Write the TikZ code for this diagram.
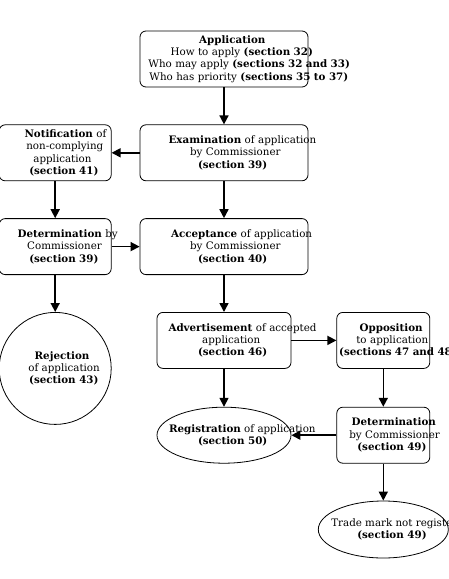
\documentclass[tikz,border=0pt]{standalone}
\usepackage{fontspec}
\setmainfont{DejaVu Serif}
\usepackage{tikz}
\usetikzlibrary{positioning,arrows.meta,shapes.geometric}
\newcommand{\ovl}[1]{\makebox[0.75\width][l]{#1}} % lines run past their box
\tikzset{
  stepbox/.style={rectangle, draw, rounded corners=6pt, line width=0.8pt, inner sep=2pt,
                  minimum height=56pt, align=center, font=\fontsize{10.3}{12.4}\selectfont},
  wide/.style={text width=164pt},
  mid/.style={text width=130pt},
  small/.style={text width=108pt},
  slim/.style={text width=89pt},
  oval/.style={ellipse, draw, line width=0.8pt, inner sep=0pt},
  round/.style={circle, draw, line width=0.8pt, inner sep=0pt, minimum size=112pt},
  txt/.style={align=center, font=\fontsize{10.3}{12.4}\selectfont},
  fwd/.style={-{Triangle[length=9pt,width=9pt]}, line width=1.6pt},
}

\begin{document}
\begin{tikzpicture}[x=1pt, y=-1pt, node distance=37pt]
  \useasboundingbox (0,0) rectangle (448,579);

  \node[stepbox, wide] (app) at (224,59) {\ovl{\textbf{Application}}\\
    \ovl{How to apply \textbf{(section 32)}}\\
    \ovl{Who may apply \textbf{(sections 32 and 33)}}\\
    \ovl{Who has priority \textbf{(sections 35 to 37)}}};
  \node[stepbox, wide] (exam) [below=of app] {\ovl{\textbf{Examination} of application}\\
    \ovl{by Commissioner}\\ \ovl{\textbf{(section 39)}}};
  \node[stepbox, small] (notif) [left=28pt of exam] {\ovl{\textbf{Notification} of}\\
    \ovl{non-complying}\\ \ovl{application}\\ \ovl{\textbf{(section 41)}}};
  \node[stepbox, small] (detcom) [below=of notif] {\ovl{\textbf{Determination} by}\\
    \ovl{Commissioner}\\ \ovl{\textbf{(section 39)}}};
  \node[stepbox, wide] (accept) [below=of exam] {\ovl{\textbf{Acceptance} of application}\\
    \ovl{by Commissioner}\\ \ovl{\textbf{(section 40)}}};
  \node[round, label={[txt]center:{\ovl{\textbf{Rejection}}\\ \ovl{of application}\\
    \ovl{\textbf{(section 43)}}}}] (reject) [below=of detcom] {};
  \node[stepbox, mid] (advert) [below=of accept] {\ovl{\textbf{Advertisement} of accepted}\\
    \ovl{application}\\ \ovl{\textbf{(section 46)}}};
  \node[stepbox, slim] (oppo) [right=45pt of advert] {\ovl{\textbf{Opposition}}\\
    \ovl{to application}\\ \ovl{\textbf{(sections 47 and 48)}}};
  \node[oval, minimum width=134pt, minimum height=56pt,
        label={[txt]center:{\ovl{\textbf{Registration} of application}\\
        \ovl{\textbf{(section 50)}}}}] (regist) [below=38pt of advert] {};
  \node[stepbox, slim] (detopp) [below=38pt of oppo] {\ovl{\textbf{Determination}}\\
    \ovl{by Commissioner}\\ \ovl{\textbf{(section 49)}}};
  \node[oval, minimum width=130pt, minimum height=57pt,
        label={[txt]center:{\ovl{Trade mark not registered}\\
        \ovl{\textbf{(section 49)}}}}] (notreg) [below=of detopp] {};

  \draw[fwd] (app) -- (exam);
  \draw[fwd] (exam) -- (notif);
  \draw[fwd] (notif) -- (detcom);
  \draw[fwd] (exam) -- (accept);
  \draw[fwd] (detcom) -- (accept);
  \draw[fwd] (detcom) -- (reject);
  \draw[fwd] (accept) -- (advert);
  \draw[fwd] (advert) -- (oppo);
  \draw[fwd] (advert) -- (regist);
  \draw[fwd] (oppo) -- (detopp);
  \draw[fwd] (detopp) -- (regist);
  \draw[fwd] (detopp) -- (notreg);

\end{tikzpicture}
\end{document}
